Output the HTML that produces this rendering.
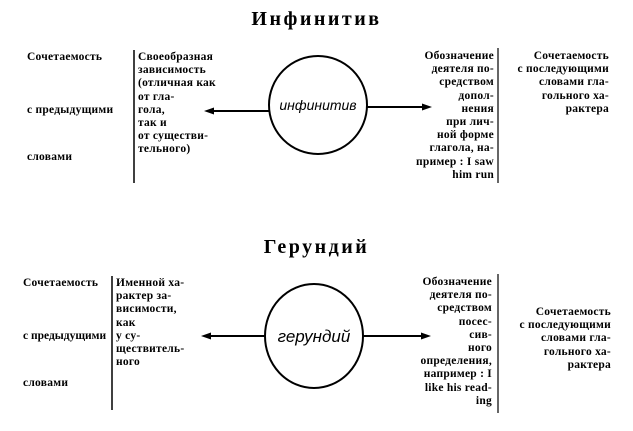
<!DOCTYPE html>
<html><head><meta charset="utf-8"><style>
body{margin:0;width:633px;height:431px;background:#fff;position:relative;overflow:hidden;font-family:"Liberation Serif","DejaVu Serif",serif;color:#000}
.t{position:absolute;font-size:11.5px;font-weight:bold;line-height:13.2px;letter-spacing:0.25px;white-space:pre}
.r{text-align:right}
.h{position:absolute;left:0;width:633px;text-align:center;font-size:20px;font-weight:bold;letter-spacing:2.5px;white-space:nowrap}
svg{position:absolute;left:0;top:0}
</style></head><body>
<svg width="633" height="431">
<g stroke="#000" fill="none">
<line x1="134" y1="50" x2="134" y2="183" stroke-width="1.5"/>
<line x1="498" y1="48" x2="498" y2="183" stroke-width="1.2"/>
<circle cx="318" cy="105" r="49" stroke-width="2"/>
<line x1="208" y1="111" x2="270" y2="111" stroke-width="2"/>
<line x1="366" y1="107" x2="428" y2="107" stroke-width="2"/>
<line x1="112" y1="276" x2="112" y2="410" stroke-width="1.5"/>
<line x1="498" y1="274" x2="498" y2="413" stroke-width="1.2"/>
<ellipse cx="314" cy="336" rx="49" ry="52" stroke-width="2"/>
<line x1="206" y1="336" x2="265" y2="336" stroke-width="2"/>
<line x1="363" y1="336" x2="426" y2="336" stroke-width="2"/>
</g>
<g fill="#000">
<polygon points="204,111 214,107.5 214,114.5"/>
<polygon points="432,107 422,103.5 422,110.5"/>
<polygon points="201,336 211,332.5 211,339.5"/>
<polygon points="431,336 421,332.5 421,339.5"/>
</g>
<text x="318" y="110" font-family="Liberation Sans,sans-serif" font-style="italic" font-size="14" text-anchor="middle">инфинитив</text>
<text x="314" y="342" font-family="Liberation Sans,sans-serif" font-style="italic" font-size="17" text-anchor="middle">герундий</text>
</svg>
<div class="h" style="top:8px">Инфинитив</div>
<div class="h" style="top:236px">Герундий</div>

<div class="t" style="left:27px;top:51px">Сочетаемость</div>
<div class="t" style="left:27px;top:104px">с предыдущими</div>
<div class="t" style="left:27px;top:151px">словами</div>
<div class="t" style="left:138px;top:51px">Своеобразная
зависимость
(отличная как
от гла-
гола,
так и
от существи-
тельного)</div>
<div class="t r" style="right:139px;top:50px">Обозначение
деятеля по-
средством
допол-
нения
при лич-
ной форме
глагола, на-
пример : I saw
him run</div>
<div class="t r" style="right:24px;top:50px">Сочетаемость
с последующими
словами гла-
гольного ха-
рактера</div>

<div class="t" style="left:23px;top:277px">Сочетаемость</div>
<div class="t" style="left:23px;top:330px;letter-spacing:0">с предыдущими</div>
<div class="t" style="left:23px;top:377px">словами</div>
<div class="t" style="left:116px;top:277px">Именной ха-
рактер за-
висимости,
как
у су-
ществитель-
ного</div>
<div class="t r" style="right:141px;top:276px">Обозначение
деятеля по-
средством
посес-
сив-
ного
определения,
например : I
like his read-
ing</div>
<div class="t r" style="right:22px;top:306px">Сочетаемость
с последующими
словами гла-
гольного ха-
рактера</div>
</body></html>
